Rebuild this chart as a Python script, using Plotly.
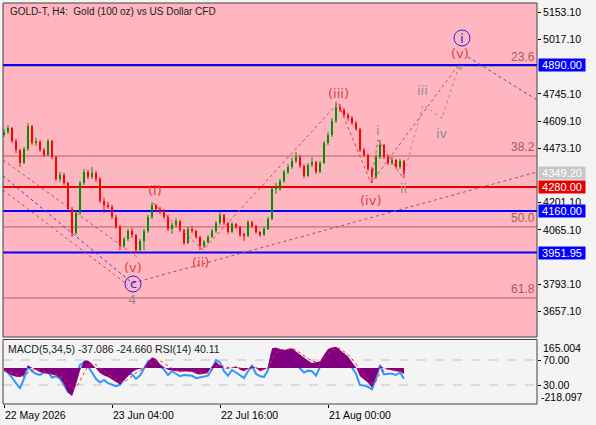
import plotly.graph_objects as go

# ---- price data (one candle ~ one trading day) ----
closes = [4555, 4575, 4510, 4465, 4400, 4470, 4585, 4500, 4505, 4465,
          4440, 4510, 4430, 4320, 4340, 4300, 4170, 4050, 4150, 4300,
          4355, 4330, 4350, 4320, 4210, 4190, 4180, 4130, 4080, 3985,
          4020, 4060, 4040, 3965, 4010, 4060, 4130, 4190, 4170, 4160,
          4130, 4070, 4090, 4110, 4065, 4000, 4070, 4060, 4030, 3985,
          4005, 4030, 4060, 4100, 4140, 4100, 4055, 4095, 4080, 4040,
          4035, 4105, 4085, 4055, 4040, 4070, 4120, 4270, 4270, 4310,
          4355, 4380, 4410, 4430, 4385, 4335, 4390, 4405, 4355, 4400,
          4500, 4540, 4610, 4680, 4665, 4640, 4625, 4600, 4570, 4465,
          4440, 4370, 4330, 4430, 4490, 4430, 4400, 4415, 4380, 4410,
          4349.2]
highs = [4570, 4590, 4580, 4520, 4470, 4480, 4600, 4590, 4525, 4515,
         4475, 4520, 4515, 4435, 4355, 4350, 4305, 4180, 4165, 4310,
         4370, 4365, 4380, 4360, 4330, 4225, 4205, 4190, 4140, 4090,
         4030, 4070, 4075, 4045, 4020, 4070, 4140, 4205, 4195, 4180,
         4170, 4140, 4100, 4125, 4115, 4070, 4080, 4085, 4065, 4035,
         4015, 4040, 4070, 4110, 4155, 4145, 4105, 4105, 4100, 4085,
         4050, 4115, 4110, 4090, 4060, 4080, 4130, 4280, 4300, 4320,
         4365, 4395, 4425, 4455, 4440, 4395, 4400, 4430, 4410, 4410,
         4510, 4555, 4625, 4705, 4695, 4675, 4650, 4635, 4610, 4575,
         4475, 4445, 4380, 4440, 4515, 4495, 4440, 4430, 4420, 4420,
         4415]
lows = [4530, 4545, 4500, 4450, 4380, 4395, 4460, 4490, 4485, 4455,
        4430, 4435, 4420, 4310, 4305, 4290, 4160, 4030, 4040, 4140,
        4290, 4320, 4320, 4305, 4200, 4150, 4170, 4120, 4070, 3965,
        3975, 4010, 4025, 3950, 3960, 3965, 4050, 4120, 4155, 4145,
        4120, 4060, 4045, 4080, 4055, 3990, 3995, 4050, 4020, 3965,
        3975, 3995, 4025, 4050, 4090, 4090, 4045, 4050, 4070, 4030,
        4010, 4030, 4075, 4045, 4030, 4035, 4065, 4115, 4245, 4260,
        4300, 4345, 4370, 4400, 4375, 4325, 4330, 4380, 4345, 4350,
        4395, 4490, 4530, 4600, 4655, 4630, 4610, 4590, 4560, 4455,
        4430, 4360, 4300, 4320, 4420, 4420, 4390, 4390, 4370, 4370,
        4325]
opens = [4540] + closes[:-1]

# ---- indicator window ----
macd_hist = [-20, -30, -45, -53, -55, -45, 15, 0, -15, -25,
             -30, -35, -40, -45, -60, -95, -150, -170, -100, -15,
             45, 45, 25, 0, -30, -45, -55, -70, -85, -100,
             -75, -50, -25, -10, -5, 0, 35, 65, 55, 25,
             5, -10, -15, -20, -22, -20, -20, -22, -35, -40,
             -35, -25, 10, 38, 15, 0, -5, 5, 10, -10,
             -20, -5, 10, 0, -20, -10, 5, 120, 125, 115,
             110, 115, 120, 100, 80, 60, 45, 30, 35, 40,
             80, 115, 125, 130, 110, 90, 70, 35, 5, -50,
             -70, -90, -120, -60, 10, 0, -10, -15, -20, -22,
             -37.086]
macd_signal = [-15, -20, -28, -38, -46, -50, -30, -15, -8, -15,
               -22, -28, -33, -38, -47, -65, -95, -125, -120, -80,
               -30, 10, 28, 20, 0, -20, -38, -52, -68, -82,
               -85, -70, -50, -30, -15, -5, 12, 35, 48, 45,
               28, 10, -3, -12, -18, -20, -20, -21, -27, -33,
               -35, -30, -12, 10, 18, 10, 3, 2, 5, 0,
               -8, -10, 0, 3, -8, -10, -3, 50, 90, 110,
               112, 113, 116, 110, 95, 75, 58, 42, 36, 38,
               58, 88, 110, 122, 118, 100, 82, 55, 25, -15,
               -45, -68, -95, -80, -30, -10, -8, -12, -16, -20,
               -24.66]
rsi = [57, 50, 42, 33, 25, 40, 59, 52, 48, 46,
       50, 51, 42, 44, 40, 30, 19, 17, 40, 62,
       66, 60, 50, 40, 34, 38, 33, 30, 28, 30,
       40, 48, 47, 40, 45, 57, 68, 70, 66, 60,
       55, 46, 52, 48, 44, 46, 46, 45, 41, 42,
       43, 45, 55, 70, 66, 52, 45, 54, 50, 46,
       41, 52, 61, 48, 44, 43, 54, 83, 76, 71,
       70, 72, 72, 63, 56, 50, 53, 52, 45, 58,
       73, 76, 75, 73, 70, 66, 62, 58, 48, 30,
       29, 27, 23, 40, 62, 47, 48, 48, 46, 50,
       40.11]

x_labels = ["22 May 2026", "23 Jun 04:00", "22 Jul 16:00", "21 Aug 00:00"]
x_label_idx = [0, 27, 54, 81]

price_ticks = [5153.10, 5017.10, 4745.10, 4609.10, 4473.10,
               4201.10, 4065.10, 3793.10, 3657.10]

# horizontal levels: (price, colour)
levels = [(4890.00, "#0000FF"), (4280.00, "#E60000"),
          (4160.00, "#0000FF"), (3951.95, "#0000FF")]
last_price = 4349.20

fib_names = ["23.6", "38.2", "50.0", "61.8"]
fib_prices = [4884.6, 4434.6, 4080.0, 3725.0]

# wave paths (candle index, price)
wave_main_x = [37.25, 49.75, 83.5, 91.75, 114]
wave_main_y = [4199.6, 3964.6, 4699.6, 4299.6, 4899.6]
wave_sub_x = [91.75, 93.5, 99.75]
wave_sub_y = [4299.6, 4514.6, 4324.6]
wave_proj_x = [99.75, 104.75, 109.5, 114]
wave_proj_y = [4324.6, 4689.6, 4624.6, 4899.6]
trend_x = [32.25, 133.25]
trend_y = [3799.6, 4354.6]
after_x = [116, 133.25]
after_y = [4929.6, 4714.6]
fan_red1 = ([-0.25, 33.25], [4414.6, 3929.6])
fan_blue = ([-0.25, 31.75], [4334.6, 3804.6])
fan_red2 = ([-0.25, 31.0], [4264.6, 3789.6])

red_labels = [("(i)", 37.75, 4264.6), ("(ii)", 49, 3899.6), ("(iii)", 83.5, 4749.6),
              ("(iv)", 91.5, 4214.6), ("(v)", 114, 4949.6), ("(v)", 32.25, 3874.6)]
gray_labels = [("i", 93.5, 4564.6), ("ii", 99.75, 4274.6), ("iii", 104.5, 4764.6),
               ("iv", 109.5, 4549.6), ("4", 32, 3714.6)]
small_gray_labels = [("v", 114, 4878.0)]
circle_labels = [("c", 32.25, 3794.6), ("i", 114.5, 5024.6)]

idx = list(range(len(closes)))

PINK = "#FFB6C1"
PANEL = "#F4F4F4"
FONT = "Liberation Sans"
MAIN_Y0 = 0.1671
LOW_Y1 = 0.1608
UP = "#009000"
DOWN = "#FF0000"

fig = go.Figure()

# candles: wicks as line segments, bodies as thin bars
for want_up, col in [(True, UP), (False, DOWN)]:
    sel = [i for i in idx if (closes[i] >= opens[i]) == want_up]
    wx, wy = [], []
    for i in sel:
        wx += [i, i, None]
        wy += [lows[i], highs[i], None]
    fig.add_trace(go.Scatter(x=wx, y=wy, mode="lines", line={"color": col, "width": 1},
                             yaxis="y", hoverinfo="skip", showlegend=False))
    fig.add_trace(go.Bar(
        x=sel,
        base=[min(opens[i], closes[i]) for i in sel],
        y=[max(abs(closes[i] - opens[i]), 3) for i in sel],
        width=0.5, marker={"color": col, "line": {"width": 0}},
        yaxis="y", hoverinfo="skip", showlegend=False))

dot_red = {"color": "#D04848", "width": 1, "dash": "dot"}
for xs, ys, line in [
    (wave_main_x, wave_main_y, dot_red),
    (wave_sub_x, wave_sub_y, dot_red),
    (wave_proj_x, wave_proj_y, {"color": "#A88890", "width": 1, "dash": "dot"}),
    (trend_x, trend_y, {"color": "#A05060", "width": 1, "dash": "dot"}),
    (after_x, after_y, {"color": "#5050C0", "width": 1, "dash": "dot"}),
    (fan_red1[0], fan_red1[1], dot_red),
    (fan_blue[0], fan_blue[1], {"color": "#4040C8", "width": 1, "dash": "dot"}),
    (fan_red2[0], fan_red2[1], dot_red),
]:
    fig.add_trace(go.Scatter(x=xs, y=ys, mode="lines", line=line, yaxis="y",
                             hoverinfo="skip", showlegend=False))

# indicator window
fig.add_trace(go.Scatter(x=idx, y=macd_hist, mode="lines", fill="tozeroy",
                         fillcolor="#800080", line={"width": 0, "color": "#800080"},
                         yaxis="y3", hoverinfo="skip", showlegend=False))
fig.add_trace(go.Scatter(x=idx, y=macd_signal, mode="lines",
                         line={"color": "#FF2020", "width": 1, "dash": "dot"},
                         yaxis="y3", hoverinfo="skip", showlegend=False))
fig.add_trace(go.Scatter(x=idx, y=rsi, mode="lines",
                         line={"color": "#2E96FF", "width": 2},
                         yaxis="y2", hoverinfo="skip", showlegend=False))

shapes = [
    {"type": "rect", "xref": "paper", "yref": "paper", "x0": 0, "x1": 1,
     "y0": MAIN_Y0, "y1": 1, "fillcolor": PINK, "line": {"width": 0}, "layer": "below"},
]
for p in fib_prices:
    shapes.append({"type": "line", "xref": "paper", "yref": "y", "x0": 0, "x1": 1,
                   "y0": p, "y1": p, "line": {"color": "#B86060", "width": 1},
                   "layer": "below"})
shapes.append({"type": "line", "xref": "paper", "yref": "y", "x0": 0, "x1": 1,
               "y0": last_price, "y1": last_price,
               "line": {"color": "#C8C8C8", "width": 1}, "layer": "below"})
for p, col in levels:
    shapes.append({"type": "line", "xref": "paper", "yref": "y", "x0": 0, "x1": 1,
                   "y0": p, "y1": p, "line": {"color": col, "width": 2}, "layer": "below"})
for lv in (70, 30):
    shapes.append({"type": "line", "xref": "paper", "yref": "y2", "x0": 0, "x1": 1,
                   "y0": lv, "y1": lv, "line": {"color": "#C0C0C0", "width": 1, "dash": "dash"},
                   "layer": "below"})
for txt, xi, yi in circle_labels:
    shapes.append({"type": "circle", "xref": "x", "yref": "y", "xsizemode": "pixel",
                   "ysizemode": "pixel", "xanchor": xi, "yanchor": yi,
                   "x0": -8, "x1": 8, "y0": -8, "y1": 8,
                   "line": {"color": "#2828E0", "width": 1}})
# panel borders
shapes.append({"type": "rect", "xref": "paper", "yref": "paper", "x0": 0, "x1": 1,
               "y0": MAIN_Y0, "y1": 1, "line": {"color": "#404040", "width": 1}})
shapes.append({"type": "rect", "xref": "paper", "yref": "paper", "x0": 0, "x1": 1,
               "y0": 0, "y1": LOW_Y1, "line": {"color": "#404040", "width": 1}})

ann = [
    {"text": "GOLD-T, H4:  Gold (100 oz) vs US Dollar CFD", "xref": "paper", "yref": "paper",
     "x": 0, "y": 1, "xanchor": "left", "yanchor": "top", "xshift": 5, "yshift": -1,
     "showarrow": False, "font": {"size": 10, "color": "#202020", "family": FONT}},
    {"text": "MACD(5,34,5) -37.086 -24.660 RSI(14) 40.11", "xref": "paper", "yref": "paper",
     "x": 0, "y": LOW_Y1, "xanchor": "left", "yanchor": "top", "xshift": 3, "yshift": -1,
     "showarrow": False, "font": {"size": 10.5, "color": "#202020", "family": FONT}},
    {"text": "165.004", "xref": "paper", "yref": "paper", "x": 1, "y": LOW_Y1,
     "xanchor": "left", "yanchor": "top", "xshift": 4, "yshift": 0, "showarrow": False,
     "font": {"size": 10.5, "color": "#000000", "family": FONT}},
    {"text": "-218.097", "xref": "paper", "yref": "paper", "x": 1, "y": 0,
     "xanchor": "left", "yanchor": "bottom", "xshift": 2, "yshift": -1, "showarrow": False,
     "font": {"size": 10.5, "color": "#000000", "family": FONT}},
]
for name, p in zip(fib_names, fib_prices):
    ann.append({"text": name, "xref": "paper", "yref": "y", "x": 1, "y": p,
                "xanchor": "right", "yanchor": "bottom", "showarrow": False,
                "font": {"size": 12, "color": "#B05858", "family": FONT}})
for p, col in levels:
    ann.append({"text": f"{p:.2f}", "xref": "paper", "yref": "y", "x": 1, "y": p,
                "xanchor": "left", "yanchor": "middle", "xshift": 1, "showarrow": False,
                "bgcolor": col, "width": 46, "height": 12, "borderpad": 0,
                "font": {"size": 11, "color": "#FFFFFF", "family": FONT}})
ann.append({"text": f"{last_price:.2f}", "xref": "paper", "yref": "y", "x": 1, "y": last_price,
            "xanchor": "left", "yanchor": "middle", "xshift": 1, "showarrow": False,
            "bgcolor": "#C8C8C8", "width": 46, "height": 12, "borderpad": 0,
            "font": {"size": 11, "color": "#FFFFFF", "family": FONT}})
for txt, xi, yi in red_labels:
    ann.append({"text": txt, "x": xi, "y": yi, "xref": "x", "yref": "y", "showarrow": False,
                "font": {"size": 13, "color": "#E04040", "family": "DejaVu Sans"}})
for txt, xi, yi in gray_labels:
    ann.append({"text": txt, "x": xi, "y": yi, "xref": "x", "yref": "y", "showarrow": False,
                "font": {"size": 13, "color": "#8C8C8C", "family": "DejaVu Sans"}})
for txt, xi, yi in small_gray_labels:
    ann.append({"text": txt, "x": xi, "y": yi, "xref": "x", "yref": "y", "showarrow": False,
                "font": {"size": 8, "color": "#8C8C8C", "family": "DejaVu Sans"}})
for txt, xi, yi in circle_labels:
    ann.append({"text": txt, "x": xi, "y": yi, "xref": "x", "yref": "y", "showarrow": False,
                "font": {"size": 13, "color": "#2828E0", "family": "DejaVu Sans"}})
for lab, xi in zip(x_labels, x_label_idx):
    ann.append({"text": lab, "x": xi, "y": 0, "xref": "x", "yref": "paper",
                "xanchor": "left", "yanchor": "top", "xshift": -1, "yshift": -3,
                "showarrow": False, "font": {"size": 10.5, "color": "#000000", "family": FONT}})

fig.update_layout(
    width=596, height=425,
    margin={"l": 3, "r": 59, "t": 3, "b": 21},
    paper_bgcolor=PANEL, plot_bgcolor=PANEL,
    template="none",
    showlegend=False,
    barmode="overlay",
    shapes=shapes,
    annotations=ann,
    xaxis={"range": [-0.25, 133.25], "anchor": "y2", "showgrid": False, "zeroline": False,
           "rangeslider": {"visible": False}, "tickvals": x_label_idx,
           "ticktext": ["" for _ in x_labels], "ticks": "outside", "ticklen": 3,
           "tickcolor": "#000000", "showline": False, "automargin": False},
    yaxis={"domain": [MAIN_Y0, 1], "range": [3529.6, 5199.6], "side": "right",
           "anchor": "x", "showgrid": False, "zeroline": False,
           "tickvals": price_ticks, "ticktext": [f"{v:.2f}" for v in price_ticks],
           "ticks": "outside", "ticklen": 3, "tickcolor": "#000000",
           "tickfont": {"size": 10.5, "color": "#000000", "family": FONT},
           "automargin": False},
    yaxis2={"domain": [0, LOW_Y1], "range": [-0.4, 102.8], "side": "right",
            "anchor": "x", "showgrid": False, "zeroline": False,
            "tickvals": [70, 30], "ticktext": ["70.00", "30.00"],
            "ticks": "outside", "ticklen": 3, "tickcolor": "#000000",
            "tickfont": {"size": 10.5, "color": "#000000", "family": FONT},
            "automargin": False},
    yaxis3={"overlaying": "y2", "range": [-218.8, 173.3], "side": "right",
            "showgrid": False, "zeroline": False, "showticklabels": False,
            "automargin": False},
)

fig.write_html("out.html", config={"displayModeBar": False},
               post_script="document.body.style.margin='0px';")
